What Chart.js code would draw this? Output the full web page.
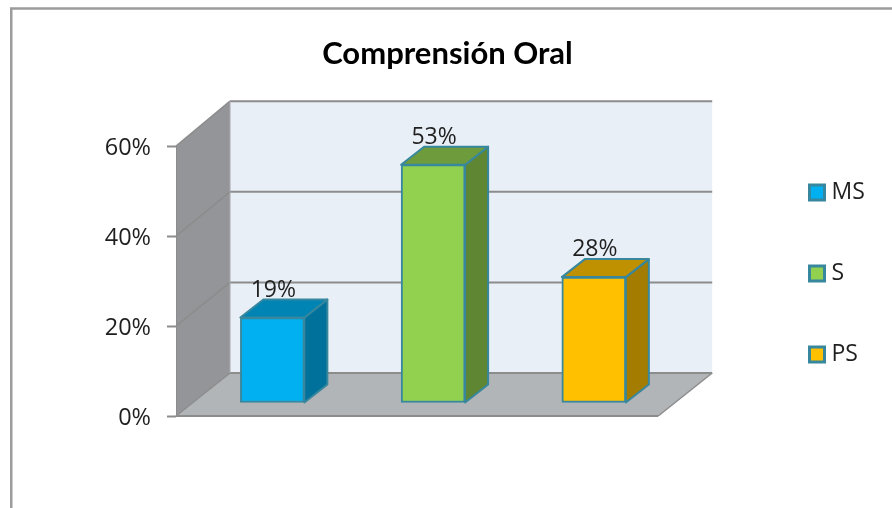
<!DOCTYPE html>
<html>
<head>
<meta charset="utf-8">
<style>
    html, body { margin: 0; padding: 0; background: #ffffff; overflow: hidden; }
    canvas { display: block; }
</style>
<script src="https://cdn.jsdelivr.net/npm/chart.js@4"></script>
</head>
<body>
<canvas id="chart" width="892" height="508"></canvas>
<script>
const categories = ['MS', 'S', 'PS'];
const seriesValues = [19, 53, 28];
const tickValues = [0, 20, 40, 60];
const titleText = 'Comprensión Oral';

const frontColors = ['#00b0f0', '#92d050', '#ffc000'];
const topColors = ['#0084b4', '#6e9c3c', '#bf9000'];
const sideColors = ['#00719a', '#5f8632', '#a37c00'];

const EDGE = '#37879e';
const LINE = '#8c8c8c';
const FONT = "'Open Sans', sans-serif";

// depth of the box the chart sits in, and of the bars themselves
const WALL_DX = 54;
const BAR_SHIFT = { x: 16, y: -13 };
const BAR_DEPTH = { x: 23, y: -18 };

function wallY(y, area) {
    // back wall is a touch taller than the front plane
    return y - 43 - 2 * (area.bottom - y) / (area.bottom - area.top);
}

function poly(ctx, pts, fill, stroke, width) {
    ctx.beginPath();
    pts.forEach((p, i) => i ? ctx.lineTo(p[0], p[1]) : ctx.moveTo(p[0], p[1]));
    ctx.closePath();
    if (fill) { ctx.fillStyle = fill; ctx.fill(); }
    if (stroke) { ctx.strokeStyle = stroke; ctx.lineWidth = width; ctx.lineJoin = 'round'; ctx.stroke(); }
}

function segment(ctx, x1, y1, x2, y2, color, width) {
    ctx.beginPath();
    ctx.moveTo(x1, y1);
    ctx.lineTo(x2, y2);
    ctx.strokeStyle = color;
    ctx.lineWidth = width;
    ctx.stroke();
}

// Outer frame, side wall, back wall and floor
const boxPlugin = {
    id: 'box3d',
    beforeDraw(chart) {
        const { ctx, chartArea: a, scales } = chart;
        const yScale = scales.y;
        const backX = a.left + WALL_DX;
        const backTop = wallY(a.top, a);
        const backBottom = wallY(a.bottom, a);
        ctx.save();

        ctx.beginPath();
        ctx.moveTo(11.25, 508);
        ctx.lineTo(11.25, 8.5);
        ctx.lineTo(892, 8.5);
        ctx.strokeStyle = '#9c9c9c';
        ctx.lineWidth = 2.5;
        ctx.stroke();

        poly(ctx, [[backX, backTop], [a.right + WALL_DX, backTop], [a.right + WALL_DX, backBottom], [backX, backBottom]], '#e8eff6');
        poly(ctx, [[a.left, a.top], [backX, backTop], [backX, backBottom], [a.left, a.bottom]], '#939598');
        poly(ctx, [[a.left, a.bottom], [backX, backBottom], [a.right + WALL_DX, backBottom], [a.right, a.bottom]], '#b1b5b8');

        tickValues.forEach(v => {
            const y = yScale.getPixelForValue(v);
            const by = wallY(y, a);
            segment(ctx, a.left, y, backX, by, LINE, 1.5);
            segment(ctx, backX, by, a.right + WALL_DX, by, LINE, 2);
        });
        segment(ctx, backX, backTop, backX, backBottom, '#a6a8ab', 1);
        segment(ctx, a.left, a.bottom, a.right, a.bottom, LINE, 2);
        segment(ctx, a.right, a.bottom, a.right + WALL_DX, backBottom, LINE, 1.5);
        ctx.restore();
    },
    afterLayout(chart) {
        // legend sits in the right margin, title is centred on the whole frame
        const legend = chart.legend;
        legend.left = 756;
        legend.right = 892;
        legend.top = 123;
        legend.bottom = 450;
        chart.titleBlock.left = 0;
        chart.titleBlock.right = 895;
    }
};

// Bars stand on the floor: shift them in and give them a top and a side
const barPlugin = {
    id: 'bars3d',
    beforeDatasetsDraw(chart) {
        const { ctx } = chart;
        ctx.save();
        ctx.translate(BAR_SHIFT.x, BAR_SHIFT.y);
        chart.getDatasetMeta(0).data.forEach((bar, i) => {
            const l = bar.x - bar.width / 2;
            const r = bar.x + bar.width / 2;
            const t = bar.y;
            const b = bar.base;
            const dx = BAR_DEPTH.x;
            const dy = BAR_DEPTH.y;
            poly(ctx, [[r, t], [r + dx, t + dy], [r + dx, b + dy], [r, b]], sideColors[i], EDGE, 2);
            poly(ctx, [[l, t], [l + dx, t + dy], [r + dx, t + dy], [r, t]], topColors[i], EDGE, 2);
        });
    },
    afterDatasetsDraw(chart) {
        const { ctx } = chart;
        ctx.fillStyle = '#1f1f1f';
        ctx.font = '23px ' + FONT;
        ctx.textAlign = 'center';
        ctx.textBaseline = 'alphabetic';
        chart.getDatasetMeta(0).data.forEach((bar, i) => {
            ctx.fillText(seriesValues[i] + '%', bar.x + 1, bar.y + BAR_DEPTH.y - 3);
        });
        ctx.restore();
    }
};

new Chart(document.getElementById('chart'), {
    type: 'bar',
    data: {
        labels: categories,
        datasets: [{
            data: seriesValues,
            backgroundColor: frontColors,
            borderColor: EDGE,
            borderWidth: 2,
            borderSkipped: false,
            barThickness: 64,
            clip: false,
        }]
    },
    plugins: [boxPlugin, barPlugin],
    options: {
        responsive: false,
        animation: false,
        layout: { padding: { left: 0, right: 115, top: 0, bottom: 92 } },
        scales: {
            x: { display: false },
            y: {
                min: 0,
                max: 60,
                afterFit: scale => { scale.width = 176; },
                ticks: {
                    stepSize: 20,
                    padding: 16,
                    labelOffset: 2,
                    color: '#1f1f1f',
                    font: { family: FONT, size: 23.5 },
                    callback: v => v + '%',
                },
                grid: { drawOnChartArea: false, tickLength: 9, tickColor: LINE, tickWidth: 2 },
                border: { color: LINE, width: 1 },
            }
        },
        plugins: {
            tooltip: { enabled: false },
            title: {
                display: true,
                text: titleText,
                color: '#000000',
                font: { family: 'Lato', size: 31, weight: 'bold', lineHeight: 1.2 },
                padding: { top: 35, bottom: 74 },
            },
            legend: {
                display: true,
                position: 'right',
                align: 'start',
                labels: {
                    font: { family: FONT, size: 23 },
                    color: '#1f1f1f',
                    padding: 58,
                    usePointStyle: true,
                    boxWidth: 6,
                    boxHeight: 15,
                    generateLabels: () => categories.map((name, i) => ({
                        text: name,
                        fillStyle: frontColors[i],
                        strokeStyle: EDGE,
                        lineWidth: 3,
                        pointStyle: 'rect',
                        fontColor: '#1f1f1f',
                        index: i,
                    })),
                },
            },
        },
    }
});
</script>
</body>
</html>
